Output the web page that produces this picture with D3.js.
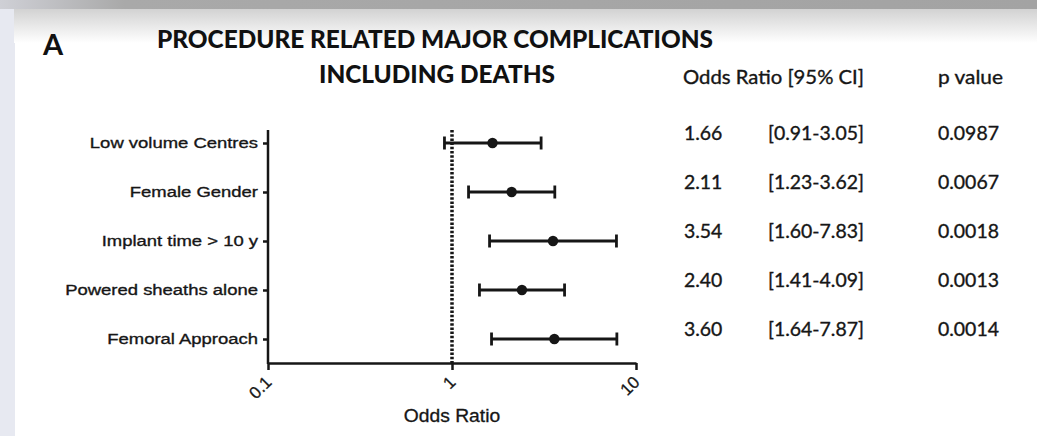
<!DOCTYPE html>
<html>
<head>
<meta charset="utf-8">
<script src="https://cdn.jsdelivr.net/npm/d3@7"></script>
<style>
  html, body { margin: 0; padding: 0; background: #fff; }
  svg { display: block; }
</style>
</head>
<body>
<svg id="chart" width="1037" height="436"></svg>
<script>
// ---- data ----
const categories = ["Low volume Centres", "Female Gender", "Implant time > 10 y", "Powered sheaths alone", "Femoral Approach"];
const oddsRatio = [1.66, 2.11, 3.54, 2.40, 3.60];
const ciLow = [0.91, 1.23, 1.60, 1.41, 1.64];
const ciHigh = [3.05, 3.62, 7.83, 4.09, 7.87];
const pValues = ["0.0987", "0.0067", "0.0018", "0.0013", "0.0014"];
const xTicks = [0.1, 1, 10];
const titleLines = ["PROCEDURE RELATED MAJOR COMPLICATIONS", "INCLUDING DEATHS"];
const panelLabel = "A";
const xAxisTitle = "Odds Ratio";
const tableHeaders = ["Odds Ratio [95% CI]", "p value"];

const svg = d3.select("#chart");
const W = 1037, H = 436;

// ---- background (slide frame) ----
const defs = svg.append("defs");
const gTop = defs.append("linearGradient").attr("id", "topbar").attr("x1", 0).attr("x2", 1).attr("y1", 0).attr("y2", 0);
gTop.append("stop").attr("offset", 0).attr("stop-color", "#cfd0d6");
gTop.append("stop").attr("offset", 0.12).attr("stop-color", "#a9a9a9");
gTop.append("stop").attr("offset", 1).attr("stop-color", "#a3a3a3");
const gPanel = defs.append("linearGradient").attr("id", "panel").attr("x1", 0).attr("x2", 0).attr("y1", 0).attr("y2", 1);
gPanel.append("stop").attr("offset", 0).attr("stop-color", "#d2d2d2");
gPanel.append("stop").attr("offset", 1).attr("stop-color", "#ffffff");

svg.append("rect").attr("x", 0).attr("y", 0).attr("width", W).attr("height", H).attr("fill", "#fff");
svg.append("rect").attr("x", 0).attr("y", 0).attr("width", 15).attr("height", H).attr("fill", "#e7e9f1");
svg.append("rect").attr("x", 14).attr("y", 9).attr("width", W - 14).attr("height", 34).attr("fill", "url(#panel)");
svg.append("rect").attr("x", 0).attr("y", 0).attr("width", W).attr("height", 9).attr("fill", "url(#topbar)");

function stretch(sel, k) {
  sel.each(function () {
    const len = this.getComputedTextLength();
    d3.select(this).attr("textLength", len * k).attr("lengthAdjust", "spacingAndGlyphs");
  });
}

// ---- titles ----
svg.append("text").attr("x", 43).attr("y", 55)
  .attr("font-family", "Lato, 'Open Sans', sans-serif").attr("font-weight", 700).attr("font-size", 29)
  .attr("fill", "#111").text(panelLabel);

const titleX = [157, 319];
const titleY = [48, 83];
const titleW = [556, 236];
titleLines.forEach((t, i) => {
  svg.append("text").attr("x", titleX[i]).attr("y", titleY[i])
    .attr("font-family", "Lato, 'Open Sans', sans-serif").attr("font-weight", 900).attr("font-size", 25)
    .attr("fill", "#111")
    .attr("textLength", titleW[i]).attr("lengthAdjust", "spacingAndGlyphs")
    .text(t);
});

// ---- scales ----
const x = d3.scaleLog().domain([0.1, 10]).range([268, 636]);
const y = d3.scalePoint().domain(categories).range([143, 339]);
const axisTop = 130, axisBottom = 363;

const font = "'Liberation Sans', Arial, sans-serif";
const ink = "#161616";

// ---- y axis ----
const yAxis = svg.append("g").attr("transform", `translate(${x(0.1)},0)`)
  .call(d3.axisLeft(y).tickSize(5).tickPadding(5).tickSizeOuter(0));
yAxis.select(".domain").remove();
yAxis.selectAll(".tick line").attr("stroke", ink).attr("stroke-width", 2.5);
yAxis.selectAll(".tick text").attr("font-family", font).attr("font-size", 15.5).attr("fill", ink)
  .attr("stroke", ink).attr("stroke-width", 0.35);
stretch(yAxis.selectAll(".tick text"), 1.19);
svg.append("line").attr("x1", x(0.1)).attr("x2", x(0.1)).attr("y1", axisTop).attr("y2", axisBottom + 1)
  .attr("stroke", ink).attr("stroke-width", 2.5);

// ---- x axis ----
const xAxis = svg.append("g").attr("transform", `translate(0,${axisBottom})`)
  .call(d3.axisBottom(x).tickValues(xTicks).tickFormat(d3.format("~g")).tickSize(7).tickSizeOuter(0));
xAxis.select(".domain").attr("stroke", ink).attr("stroke-width", 2.5);
xAxis.selectAll(".tick line").attr("stroke", ink).attr("stroke-width", 2.5);
xAxis.selectAll(".tick text")
  .attr("font-family", font).attr("font-size", 17).attr("fill", ink)
  .attr("stroke", ink).attr("stroke-width", 0.3)
  .attr("x", 0).attr("y", 0)
  .attr("text-anchor", "end").attr("dy", "0.35em")
  .attr("transform", "translate(0,16) rotate(-45)");

svg.append("text").attr("x", x(1)).attr("y", 422).attr("text-anchor", "middle")
  .attr("font-family", font).attr("font-size", 17.5).attr("fill", ink)
  .attr("stroke", ink).attr("stroke-width", 0.3).text(xAxisTitle)
  .call(s => stretch(s, 1.1));

// ---- reference line at OR = 1 ----
svg.append("line").attr("x1", x(1)).attr("x2", x(1)).attr("y1", axisTop).attr("y2", axisBottom)
  .attr("stroke", ink).attr("stroke-width", 3.5).attr("stroke-dasharray", "2.5,1.7");

// ---- error bars + points ----
const rows = svg.append("g").selectAll("g").data(categories).join("g");
rows.append("line")
  .attr("x1", (d, i) => x(ciLow[i])).attr("x2", (d, i) => x(ciHigh[i]))
  .attr("y1", d => y(d)).attr("y2", d => y(d))
  .attr("stroke", ink).attr("stroke-width", 2.8);
rows.append("line")
  .attr("x1", (d, i) => x(ciLow[i])).attr("x2", (d, i) => x(ciLow[i]))
  .attr("y1", d => y(d) - 6.5).attr("y2", d => y(d) + 6.5)
  .attr("stroke", ink).attr("stroke-width", 2.8);
rows.append("line")
  .attr("x1", (d, i) => x(ciHigh[i])).attr("x2", (d, i) => x(ciHigh[i]))
  .attr("y1", d => y(d) - 6.5).attr("y2", d => y(d) + 6.5)
  .attr("stroke", ink).attr("stroke-width", 2.8);
rows.append("circle")
  .attr("cx", (d, i) => x(oddsRatio[i])).attr("cy", d => y(d)).attr("r", 5.2)
  .attr("fill", ink);

// ---- table ----
const tFont = "Lato, 'Open Sans', sans-serif";
const f2 = d3.format(".2f");
const hdr = svg.append("g").attr("font-family", tFont).attr("font-size", 18.5).attr("fill", ink)
  .attr("stroke", ink).attr("stroke-width", 0.35);
hdr.append("text").attr("x", 683).attr("y", 84).attr("textLength", 181).attr("lengthAdjust", "spacingAndGlyphs").text(tableHeaders[0]);
hdr.append("text").attr("x", 938).attr("y", 84).attr("textLength", 65).attr("lengthAdjust", "spacingAndGlyphs").text(tableHeaders[1]);

const tbl = svg.append("g").attr("font-family", tFont).attr("font-size", 18.5).attr("fill", ink)
  .attr("stroke", ink).attr("stroke-width", 0.35);
const trow = tbl.selectAll("g").data(categories).join("g");
trow.append("text").attr("x", 684).attr("y", d => y(d) - 3).text((d, i) => f2(oddsRatio[i]));
trow.append("text").attr("x", 768).attr("y", d => y(d) - 3).text((d, i) => `[${f2(ciLow[i])}-${f2(ciHigh[i])}]`);
trow.append("text").attr("x", 938).attr("y", d => y(d) - 3).text((d, i) => pValues[i]);
stretch(tbl.selectAll("text"), 1.05);
</script>
</body>
</html>
